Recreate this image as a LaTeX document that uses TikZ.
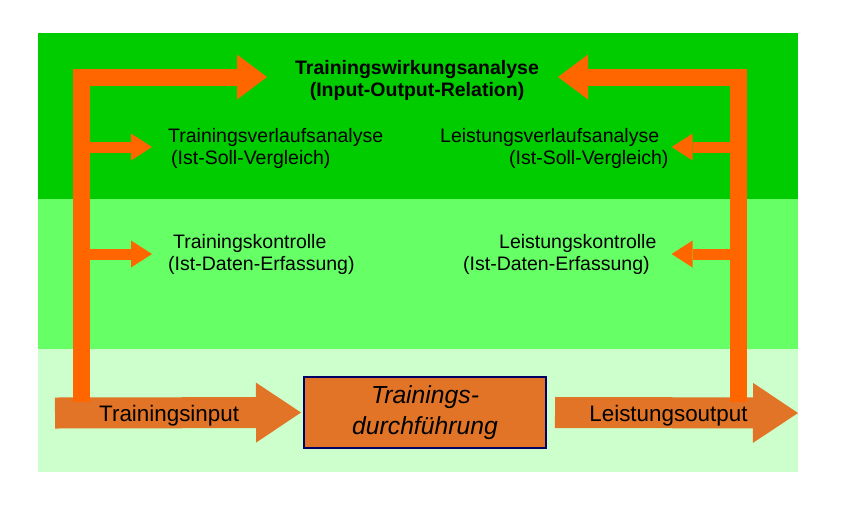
\documentclass[tikz,border=0pt]{standalone}
\usepackage{fontspec}
\setmainfont{Liberation Sans}
\usetikzlibrary{arrows.meta}
\definecolor{darkband}{RGB}{0,204,0}
\definecolor{midband}{RGB}{102,255,102}
\definecolor{lightband}{RGB}{204,255,204}
\definecolor{feedback}{RGB}{255,102,0}
\definecolor{flowcol}{RGB}{225,116,38}
\definecolor{boxline}{RGB}{0,0,102}
\tikzset{
  txt/.style={inner sep=0pt, font=\fontsize{19.5}{22}\selectfont, align=left},
  flowtxt/.style={inner sep=0pt, yshift=-3pt, font=\fontsize{22.4}{26}\selectfont},
  fbmain/.style={draw=feedback, line width=17pt, line join=miter, -{Triangle[length=30pt,width=45pt,line width=0pt]}},
  fbbranch/.style={draw=feedback, line width=11pt, -{Triangle[length=21pt,width=27pt,line width=0pt]}},
  flow/.style={draw=flowcol, line width=31pt, -{Triangle[length=45pt,width=60pt,line width=0pt]}},
  procbox/.style={draw=boxline, line width=2pt, fill=flowcol, minimum width=242pt, minimum height=71pt, align=center, font=\fontsize{24.7}{31}\selectfont\itshape}
}

\begin{document}
\begin{tikzpicture}[x=1pt,y=-1pt]
\useasboundingbox (0,0) rectangle (846,504);
\fill[darkband] (38,33) rectangle (798,199);
\fill[midband] (38,199) rectangle (798,349);
\fill[lightband] (38,349) rectangle (798,472);

\node[txt, font=\fontsize{19.5}{22}\selectfont\bfseries, align=center] (wirkung) at (417,80) {Trainingswirkungsanalyse\\(Input-Output-Relation)};
\node[txt, anchor=west] (tverlauf) at (168,148.5) {Trainingsverlaufsanalyse\\\hspace*{3pt}(Ist-Soll-Vergleich)};
\node[txt, anchor=west] (lverlauf) at (440,148.5) {Leistungsverlaufsanalyse\\\hspace*{69pt}(Ist-Soll-Vergleich)};
\node[txt, anchor=west] (tkontrolle) at (168,254.5) {\hspace*{5pt}Trainingskontrolle\\(Ist-Daten-Erfassung)};
\node[txt, anchor=west] (lkontrolle) at (463,254.5) {\hspace*{36pt}Leistungskontrolle\\(Ist-Daten-Erfassung)};
\node[procbox] (durchf) at (425,412.5) {Trainings-\\durchführung};

\coordinate (inStart) at (55,413);
\coordinate (outEnd) at (798,413);
\coordinate (riseL) at (81,402);
\coordinate (riseR) at (738,402);
\coordinate (tipL) at (267,77);
\coordinate (tipR) at (558,77);

\draw[flow] (inStart) -- node[flowtxt, pos=0.464] (tinput) {Trainingsinput} ([xshift=-2pt]durchf.west);
\draw[flow] ([xshift=8pt]durchf.east) -- node[flowtxt, pos=0.467] (loutput) {Leistungsoutput} (outEnd);

\draw[fbmain] (riseL) |- (tipL);
\draw[fbmain] (riseR) |- (tipR);
\draw[fbbranch] (riseL |- tverlauf.west) ++(0,-1.5) -- ([xshift=-16pt,yshift=1.5pt]tverlauf.west);
\draw[fbbranch] (riseL |- tkontrolle.west) ++(0,-0.5) -- ([xshift=-16pt,yshift=0.5pt]tkontrolle.west);
\draw[fbbranch] (riseR |- lverlauf.east) ++(0,-1.5) -- ([xshift=3pt,yshift=1.5pt]lverlauf.east);
\draw[fbbranch] (riseR |- lkontrolle.east) ++(0,-0.5) -- ([xshift=15pt,yshift=0.5pt]lkontrolle.east);
\end{tikzpicture}
\end{document}
